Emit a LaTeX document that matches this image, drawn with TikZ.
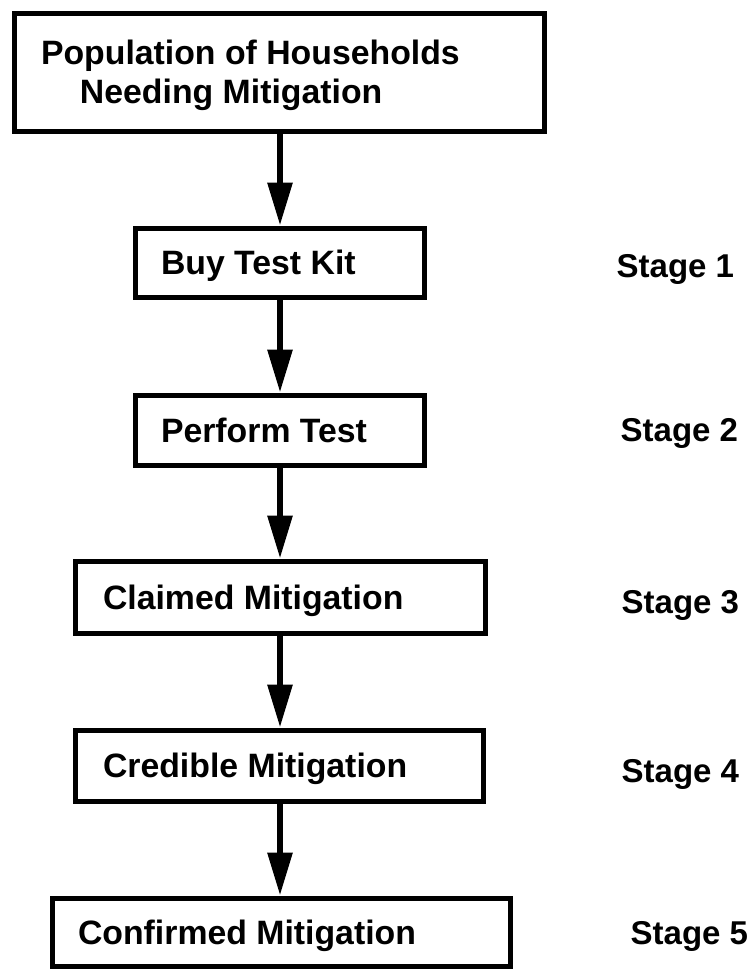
\documentclass[tikz,border=0pt]{standalone}
\usepackage{fontspec}
\setmainfont{Liberation Sans}
\usetikzlibrary{arrows.meta}
\begin{document}
\begin{tikzpicture}[x=1pt,y=-1pt,
  box/.style={draw, line width=5pt, inner sep=0pt, text height=24.2pt, text depth=0pt,
    font=\fontsize{33.8}{39}\selectfont\bfseries},
  flow/.style={line width=6pt, -{Triangle[width=24pt,length=43pt]}},
  stagelbl/.style={anchor=base west, inner sep=0pt, font=\fontsize{33}{39}\selectfont\bfseries}]
\useasboundingbox (0,0) rectangle (753,969);

\node[box, minimum width=530pt, minimum height=118pt, text height=24.2pt, text depth=39pt] (b0) at (279,72)
  {\vtop{\hbox to 530pt{\hspace*{27pt}Population of Households\hfil}\hbox to 530pt{\hspace*{66pt}Needing Mitigation\hfil}}};
\node[box, minimum width=289pt, minimum height=69pt] (b1) at (279.5,262.5)
  {\hbox to 289pt{\hspace*{26pt}Buy Test Kit\hfil}};
\node[box, minimum width=289pt, minimum height=70pt] (b2) at (279.5,430)
  {\hbox to 289pt{\hspace*{26pt}Perform Test\hfil}};
\node[box, minimum width=410pt, minimum height=72pt] (b3) at (280,597)
  {\hbox to 410pt{\hspace*{28pt}Claimed Mitigation\hfil}};
\node[box, minimum width=408pt, minimum height=71pt] (b4) at (279,765.5)
  {\hbox to 408pt{\hspace*{28pt}Credible Mitigation\hfil}};
\node[box, minimum width=458pt, minimum height=68pt] (b5) at (281,932)
  {\hbox to 458pt{\hspace*{26pt}Confirmed Mitigation\hfil}};

\draw[flow] (b0.south -| 280,0) -- (b1.north -| 280,0);
\draw[flow] (b1.south -| 280,0) -- (b2.north -| 280,0);
\draw[flow] (b2.south -| 280,0) -- (b3.north -| 280,0);
\draw[flow] (b3.south -| 280,0) -- (b4.north -| 280,0);
\draw[flow] (b4.south -| 280,0) -- (b5.north -| 280,0);

\node[stagelbl] (s1) at (616.5,277) {Stage 1};
\node[stagelbl] (s2) at (620.5,441) {Stage 2};
\node[stagelbl] (s3) at (621.5,613) {Stage 3};
\node[stagelbl] (s4) at (621.5,782) {Stage 4};
\node[stagelbl] (s5) at (630.5,944) {Stage 5};
\end{tikzpicture}
\end{document}
